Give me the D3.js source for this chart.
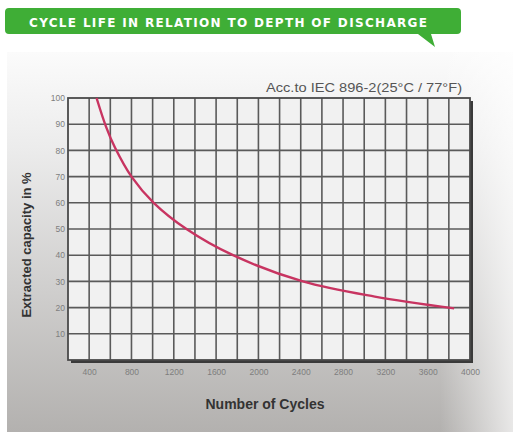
<!DOCTYPE html>
<html>
<head>
<meta charset="utf-8">
<script src="https://cdn.jsdelivr.net/npm/d3@7"></script>
<style>
  body { margin: 0; background: #fff; }
  svg { display: block; }
</style>
</head>
<body>
<script>
// data
var cycles   = [470, 560, 645, 800, 1010, 1320, 1760, 2420, 3100, 3850]
var capacity = [100, 89,  81,  70,  60,   50,   40,   30,   24.2, 19.7]
var xTicks = [400, 800, 1200, 1600, 2000, 2400, 2800, 3200, 3600, 4000]
var yTicks = [10, 20, 30, 40, 50, 60, 70, 80, 90, 100]
var title = "CYCLE LIFE IN RELATION TO DEPTH OF DISCHARGE"
var note = "Acc.to IEC 896-2(25°C / 77°F)"

var W = 513, H = 434
var margin = {top: 98, right: 43, bottom: 74, left: 68},
    width = W - margin.left - margin.right,
    height = H - margin.top - margin.bottom

var svg = d3.select("body").append("svg")
    .attr("width", W)
    .attr("height", H)

var defs = svg.append("defs")
var bg = defs.append("linearGradient").attr("id", "bg")
    .attr("x1", 0).attr("y1", 0).attr("x2", 0).attr("y2", 1)
bg.append("stop").attr("offset", "0%").attr("stop-color", "#fbfbfb")
bg.append("stop").attr("offset", "25%").attr("stop-color", "#ececec")
bg.append("stop").attr("offset", "100%").attr("stop-color", "#b3b1af")
var side = defs.append("linearGradient").attr("id", "side")
    .attr("x1", 0).attr("y1", 0).attr("x2", 1).attr("y2", 0)
side.append("stop").attr("offset", "0%").attr("stop-color", "#fff").attr("stop-opacity", 0)
side.append("stop").attr("offset", "100%").attr("stop-color", "#fff").attr("stop-opacity", 0.7)

// grey panel
svg.append("rect").attr("x", 7).attr("y", 52).attr("width", W - 7).attr("height", 380)
    .attr("fill", "url(#bg)")
svg.append("rect").attr("x", 440).attr("y", 52).attr("width", 73).attr("height", 380)
    .attr("fill", "url(#side)")

// title banner
svg.append("path")
    .attr("d", "M9,8 H457 Q461,8 461,12 V30 Q461,34 457,34 H431 L435,47 L418,34 H9 Q5,34 5,30 V12 Q5,8 9,8 Z")
    .attr("fill", "#3fae36")
svg.append("text")
    .attr("x", 29).attr("y", 26.5)
    .attr("textLength", 398).attr("lengthAdjust", "spacing")
    .style("font-family", "DejaVu Sans").style("font-weight", "bold").style("font-size", "12px")
    .attr("fill", "#ffffff")
    .text(title)

svg.append("text")
    .attr("x", 462).attr("y", 92).attr("text-anchor", "end")
    .attr("textLength", 196).attr("lengthAdjust", "spacingAndGlyphs")
    .style("font-family", "Liberation Sans").style("font-size", "12.5px")
    .attr("fill", "#555")
    .text(note)

var g = svg.append("g")
    .attr("transform", "translate(" + margin.left + "," + margin.top + ")")

var x = d3.scaleLinear().domain([200, 4000]).range([0, width])
var y = d3.scaleLinear().domain([0, 100]).range([height, 0])

// shadow + plot background
g.append("rect").attr("x", 3).attr("y", 3).attr("width", width).attr("height", height)
    .attr("fill", "#3a3a3a")
g.append("rect").attr("width", width).attr("height", height)
    .attr("fill", "#f1f1f1")

// grid
g.append("g").selectAll("line").data(d3.range(400, 4000, 200)).join("line")
    .attr("x1", d => x(d)).attr("x2", d => x(d))
    .attr("y1", 0).attr("y2", height)
    .attr("stroke", "#5a5a5a").attr("stroke-width", 1.6)
g.append("g").selectAll("line").data(yTicks.slice(0, -1)).join("line")
    .attr("y1", d => y(d)).attr("y2", d => y(d))
    .attr("x1", 0).attr("x2", width)
    .attr("stroke", "#5a5a5a").attr("stroke-width", 1.6)
g.append("rect").attr("width", width).attr("height", height)
    .attr("fill", "none").attr("stroke", "#4a4a4a").attr("stroke-width", 1.8)

// axes labels
var xAxis = g.append("g")
    .attr("transform", "translate(0," + (height + 9) + ")")
    .call(d3.axisBottom(x).tickValues(xTicks).tickFormat(d3.format("d")).tickSize(0).tickPadding(0))
var yAxis = g.append("g")
    .attr("transform", "translate(-3,0)")
    .call(d3.axisLeft(y).tickValues(yTicks).tickFormat(d3.format("d")).tickSize(0).tickPadding(0))
svg.selectAll(".domain").remove()
svg.selectAll(".tick text")
    .style("font-family", "Liberation Sans Narrow, Liberation Sans").style("font-size", "8.5px")
    .attr("fill", "#7e7e7e")

// curve
var pts = cycles.map((c, i) => [c, capacity[i]])
g.append("path")
    .datum(pts)
    .attr("fill", "none")
    .attr("stroke", "#c83461")
    .attr("stroke-width", 2.4)
    .attr("d", d3.line()
        .x(d => x(d[0]))
        .y(d => y(d[1]))
        .curve(d3.curveCatmullRom.alpha(0.5)))

// axis titles
svg.append("text")
    .attr("x", 265).attr("y", 409).attr("text-anchor", "middle")
    .style("font-family", "Liberation Sans").style("font-weight", "bold").style("font-size", "14px")
    .attr("fill", "#333")
    .text("Number of Cycles")
svg.append("text")
    .attr("transform", "translate(31,245) rotate(-90)")
    .attr("text-anchor", "middle")
    .style("font-family", "Liberation Sans").style("font-weight", "bold").style("font-size", "13px")
    .attr("fill", "#333")
    .text("Extracted capacity in %")
</script>
</body>
</html>
